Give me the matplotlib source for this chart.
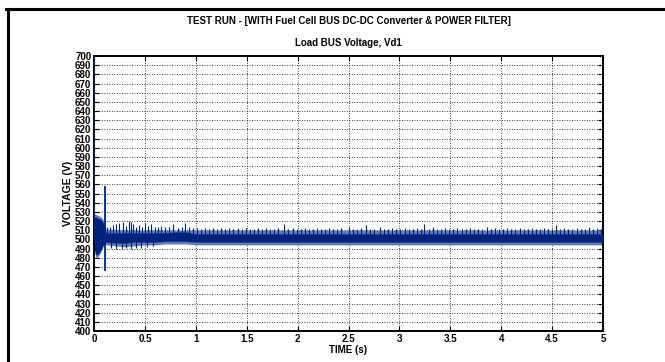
import matplotlib
matplotlib.use("Agg")
import matplotlib.pyplot as plt
from matplotlib.lines import Line2D

plt.rcParams['font.family'] = ['Liberation Sans', 'DejaVu Sans']
plt.rcParams['font.weight'] = 'bold'

# ---------------- data ----------------
title_main = "TEST RUN - [WITH Fuel Cell BUS DC-DC Converter & POWER FILTER]"
title_sub = "Load BUS Voltage, Vd1"
x_label = "TIME (s)"
y_label = "VOLTAGE (V)"

x_ticks = [0, 0.5, 1, 1.5, 2, 2.5, 3, 3.5, 4, 4.5, 5]
x_tick_labels = ["0", "0.5", "1", "1.5", "2", "2.5", "3", "3.5", "4", "4.5", "5"]
y_ticks = list(range(400, 701, 10))

# envelope of the dense oscillation band (outer, lighter) and its dense core
band_t = [0.000, 0.005, 0.020, 0.040, 0.060, 0.080, 0.095, 0.105, 0.120, 0.200, 0.300,
          0.400, 0.500, 0.600, 0.700, 0.800, 0.900, 1.000, 1.500, 2.000, 2.500, 3.000,
          3.500, 4.000, 4.500, 5.000]
band_hi = [528, 528, 527, 526, 525, 523, 520, 514, 511, 511, 510, 510, 510, 510, 510, 510,
           510, 510, 510, 510, 510, 510, 510, 510, 510, 510]
band_lo = [500, 486, 480, 481, 485, 490, 494, 495, 494, 493, 492, 493, 494, 494, 495, 495,
           495, 494, 494, 494, 494, 494, 494, 494, 494, 494]
core_hi = [524, 524, 524, 523, 522, 520, 517, 510, 507, 507, 507, 507, 507, 507, 507, 508,
           508, 506, 506, 506, 506, 506, 506, 506, 506, 506]
core_lo = [502, 489, 483, 484, 487, 491, 495, 497, 497, 496, 496, 497, 497, 497, 498, 498,
           498, 497, 497, 497, 497, 497, 497, 497, 497, 497]

# large transient excursions (time, low, high)
trans_t = [0.000, 0.002, 0.104, 0.107]
trans_lo = [500, 505, 495, 466]
trans_hi = [700, 690, 558, 505]

# upward spikes above the band (time, peak)
spike_t = [0.13, 0.16, 0.19, 0.22, 0.25, 0.28, 0.31, 0.34, 0.36, 0.38, 0.41, 0.44, 0.47,
           0.50, 0.53, 0.56, 0.60, 0.63, 0.66, 0.70, 0.74, 0.78, 0.82, 0.86, 0.89, 0.93,
           0.97, 1.01, 1.05, 1.09, 1.13, 1.17, 1.21, 1.25, 1.29, 1.33, 1.37, 1.41, 1.45,
           1.49, 1.53, 1.57, 1.61, 1.65, 1.69, 1.73, 1.77, 1.81, 1.87, 1.91, 1.95, 1.99,
           2.03, 2.07, 2.11, 2.15, 2.19, 2.23, 2.27, 2.31, 2.35, 2.39, 2.43, 2.50, 2.54,
           2.58, 2.62, 2.67, 2.71, 2.75, 2.81, 2.85, 2.89, 2.93, 2.97, 3.01, 3.05, 3.09,
           3.13, 3.17, 3.21, 3.24, 3.29, 3.33, 3.37, 3.41, 3.45, 3.49, 3.53, 3.57, 3.61,
           3.65, 3.69, 3.73, 3.77, 3.81, 3.86, 3.90, 3.94, 3.98, 4.02, 4.06, 4.10, 4.14,
           4.18, 4.22, 4.26, 4.30, 4.34, 4.38, 4.42, 4.46, 4.50, 4.54, 4.58, 4.62, 4.66,
           4.70, 4.74, 4.78, 4.82, 4.86, 4.90, 4.94, 4.98]
spike_v = [513, 514, 516, 517, 518, 519, 515, 520, 519, 517, 514, 516, 513,
           518, 515, 517, 514, 513, 515, 513, 514, 517, 512, 513, 518, 513,
           512, 512, 511, 512, 511, 512, 511, 512, 511, 512, 511, 512, 511,
           512, 511, 511, 512, 511, 512, 511, 511, 512, 517, 511, 512, 511,
           511, 512, 511, 511, 512, 511, 511, 512, 511, 511, 512, 514, 511,
           511, 512, 516, 511, 511, 513, 511, 511, 512, 511, 511, 512, 511,
           511, 512, 511, 517, 511, 513, 511, 511, 512, 511, 511, 512, 511,
           511, 512, 511, 511, 511, 514, 511, 512, 511, 511, 512, 511, 511,
           512, 511, 511, 512, 511, 511, 512, 511, 511, 516, 511, 512, 511,
           511, 512, 511, 511, 514, 511, 512, 511]

# downward spikes below the band (time, trough)
dip_t = [0.17, 0.22, 0.27, 0.31, 0.36, 0.41, 0.46, 0.52, 0.58]
dip_v = [491, 490, 490, 491, 489, 491, 491, 492, 493]

# ---------------- drawing ----------------
dark = '#00237e'
light = '#5d79b8'

fig = plt.figure(figsize=(6.65, 3.62), dpi=100)
ax = fig.add_axes([0.1414, 0.0856, 0.7654, 0.7597])

ax.fill_between(band_t, band_lo, band_hi, color=light, linewidth=0, zorder=2)
ax.fill_between(band_t, core_lo, core_hi, color=dark, linewidth=0, zorder=3)
ax.vlines(trans_t, trans_lo, trans_hi, color=dark, linewidth=1.3, zorder=4)
ax.vlines(spike_t, [500] * len(spike_t), spike_v, color=dark, linewidth=0.8, zorder=3)
ax.vlines(dip_t, dip_v, [500] * len(dip_t), color=dark, linewidth=0.8, zorder=2)

ax.set_xlim(0, 5)
ax.set_ylim(400, 700)
ax.set_xticks(x_ticks)
ax.set_xticklabels(x_tick_labels)
ax.set_yticks(y_ticks)
ax.set_yticklabels([str(v) for v in y_ticks])
ax.tick_params(axis='both', direction='in', length=3.5, width=0.8, labelsize=7,
               top=True, right=True, pad=2)
ax.grid(True, color='black', linestyle=(0, (1, 2)), linewidth=0.6)
for s in ax.spines.values():
    s.set_linewidth(1.4)

ax.set_xlabel(x_label, fontsize=7, fontweight='bold', labelpad=1)
ax.set_ylabel(y_label, fontsize=7.5, fontweight='bold', labelpad=1)
ax.set_title(title_sub, fontsize=7, fontweight='bold', pad=7)
fig.text(0.524, 1 - 21 / 362, title_main, fontsize=7, fontweight='bold',
         ha='center', va='center')

# outer frame lines (top and left)
fig.add_artist(Line2D([6 / 665, 1.0], [1 - 9 / 362, 1 - 9 / 362], color='black',
                      linewidth=2.2, transform=fig.transFigure))
fig.add_artist(Line2D([7.5 / 665, 7.5 / 665], [0, 1 - 9 / 362], color='black',
                      linewidth=2.2, transform=fig.transFigure))

fig.savefig("out.png", dpi=100, facecolor='white')
